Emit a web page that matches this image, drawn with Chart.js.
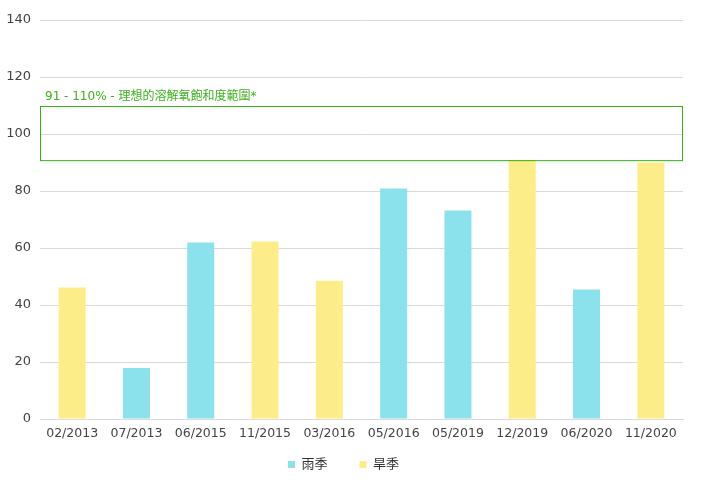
<!DOCTYPE html>
<html>
<head>
<meta charset="utf-8">
<script src="https://cdn.jsdelivr.net/npm/chart.js@4"></script>
<style>
    html, body { margin: 0; padding: 0; background: #fff; }
    #wrap { width: 702px; height: 498px; }
</style>
</head>
<body>
<div id="wrap"><canvas id="doChart"></canvas></div>
<script>
const samplingDates = ['02/2013', '07/2013', '06/2015', '11/2015', '03/2016', '05/2016', '05/2019', '12/2019', '06/2020', '11/2020'];
const rainySeason = [null, 17.9, 61.9, null, null, 80.9, 73.2, null, 45.4, null];
const drySeason = [46.1, null, null, 62.3, 48.5, null, null, 90.8, null, 90.0];
const yTicks = [0, 20, 40, 60, 80, 100, 120, 140];
const idealRange = [91, 110];
const idealLabel = '91 - 110% - 理想的溶解氧飽和度範圍*';

const font = "'DejaVu Sans', 'Noto Sans CJK TC', sans-serif";
const legendLift = 22;
const legendNudge = 2;

// draws the ideal saturation band as an outlined box with its label
const rangeBox = {
    id: 'rangeBox',
    afterDatasetsDraw(chart) {
        const ctx = chart.ctx;
        const area = chart.chartArea;
        const y = chart.scales.y;
        const top = y.getPixelForValue(idealRange[1]);
        const bottom = y.getPixelForValue(idealRange[0]);
        ctx.save();
        ctx.strokeStyle = '#36b014';
        ctx.lineWidth = 1;
        ctx.strokeRect(area.left + 0.5, Math.round(top) + 0.5, area.right - area.left - 1, bottom - top);
        ctx.fillStyle = '#3cb11c';
        ctx.font = '12px ' + font;
        ctx.textBaseline = 'bottom';
        ctx.fillText(idealLabel, area.left + 5, top - 3);
        ctx.restore();
    }
};

// legend padding is wide for the gap between items, so pull the legend up a bit
const liftLegend = {
    id: 'liftLegend',
    afterLayout(chart) {
        if (chart.legend) {
            chart.legend.top -= legendLift;
            chart.legend.bottom -= legendLift;
            chart.legend.left += legendNudge;
            chart.legend.right += legendNudge;
        }
    }
};

new Chart(document.getElementById('doChart'), {
    type: 'bar',
    data: {
        labels: samplingDates,
        datasets: [{
            label: '雨季',
            data: rainySeason,
            backgroundColor: '#8be1ec'
        }, {
            label: '旱季',
            data: drySeason,
            backgroundColor: '#fded88'
        }]
    },
    options: {
        responsive: true,
        maintainAspectRatio: false,
        animation: false,
        datasets: {
            bar: { grouped: false, categoryPercentage: 1, barPercentage: 0.42 }
        },
        layout: { padding: { top: 20, right: 19, left: 0, bottom: -5 } },
        scales: {
            x: {
                grid: { display: false, drawTicks: false },
                border: { color: '#d9d9d9' },
                ticks: { color: '#444', font: { family: font, size: 12.5 }, maxRotation: 0, padding: 7 }
            },
            y: {
                min: 0,
                max: 140,
                afterBuildTicks: (axis) => { axis.ticks = yTicks.map(v => ({ value: v })); },
                afterFit: (axis) => { axis.width = 40; },
                grid: { color: '#d9d9d9', drawTicks: false },
                border: { display: false },
                ticks: { color: '#444', font: { family: font, size: 13 }, padding: 9 }
            }
        },
        plugins: {
            legend: {
                position: 'bottom',
                labels: {
                    color: '#333',
                    font: { family: font, size: 13 },
                    usePointStyle: true,
                    pointStyle: 'rect',
                    boxWidth: 7,
                    boxHeight: 7,
                    padding: 32
                }
            },
            tooltip: { enabled: false }
        }
    },
    plugins: [rangeBox, liftLegend]
});
</script>
</body>
</html>
